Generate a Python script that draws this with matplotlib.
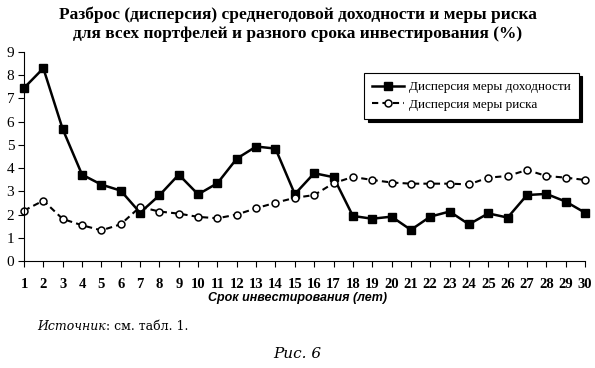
import matplotlib
matplotlib.use("Agg")
import matplotlib.pyplot as plt

# data
years = list(range(1, 31))
disp_return = [7.45, 8.3, 5.68, 3.72, 3.29, 3.03, 2.08, 2.83, 3.72, 2.87,
               3.35, 4.41, 4.93, 4.84, 2.88, 3.78, 3.61, 1.94, 1.82, 1.91,
               1.34, 1.91, 2.13, 1.58, 2.05, 1.87, 2.84, 2.89, 2.56, 2.08]
disp_risk = [2.17, 2.60, 1.81, 1.54, 1.32, 1.58, 2.33, 2.13, 2.04, 1.90,
             1.84, 2.00, 2.27, 2.51, 2.72, 2.84, 3.35, 3.62, 3.49, 3.38,
             3.33, 3.33, 3.33, 3.30, 3.59, 3.66, 3.92, 3.66, 3.59, 3.49]
yticks = list(range(0, 10))

serif = "Liberation Serif"

fig = plt.figure(figsize=(5.95, 3.68), dpi=100)
ax = fig.add_axes([24 / 595, 107 / 368, 561 / 595, 209 / 368])

ax.plot(years, disp_return, color="black", lw=1.8, marker="s", ms=5.5,
        mfc="black", mec="black", label="Дисперсия меры доходности")
ax.plot(years, disp_risk, color="black", lw=1.5, ls=(0, (3, 2)), marker="o",
        ms=5, mfc="white", mec="black", mew=1.1, label="Дисперсия меры риска")

ax.set_xlim(1, 30)
ax.set_ylim(0, 9)
ax.set_xticks(years)
ax.set_yticks(yticks)
ax.spines["top"].set_visible(False)
ax.spines["right"].set_visible(False)
ax.tick_params(axis="both", direction="out", length=4, width=0.8)
ax.tick_params(axis="x", pad=8)
ax.tick_params(axis="y", pad=3)
for lab in ax.get_xticklabels():
    lab.set_fontfamily(serif)
    lab.set_fontsize(10.5)
    lab.set_fontweight("bold")
for lab in ax.get_yticklabels():
    lab.set_fontfamily(serif)
    lab.set_fontsize(11)
for ln in ax.get_lines():
    ln.set_clip_on(False)

leg = ax.legend(loc="upper right", bbox_to_anchor=((579 - 24) / 561, (261 - 73) / 209),
                borderaxespad=0, fancybox=False, framealpha=1, edgecolor="black",
                prop={"family": serif, "size": 9.5}, handlelength=2.4,
                handletextpad=0.4, borderpad=0.6, labelspacing=0.4,
                shadow={"ox": 2.5, "oy": -2.5, "color": "black", "alpha": 1})
leg.get_frame().set_linewidth(0.8)

fig.text(0.5, 1 - 15 / 368, "Разброс (дисперсия) среднегодовой доходности и меры риска",
         ha="center", va="center", family=serif, fontsize=12.5, fontweight="bold")
fig.text(0.5, 1 - 34 / 368, "для всех портфелей и разного срока инвестирования (%)",
         ha="center", va="center", family=serif, fontsize=12.5, fontweight="bold")

fig.text(0.5, 1 - 298 / 368, "Срок инвестирования (лет)", ha="center", va="center",
         family="Liberation Sans", fontsize=9, fontstyle="italic", fontweight="bold")

# "Источник" in italics, the rest upright right after it
src = fig.text(37 / 595, 1 - 327 / 368, "Источник", ha="left", va="center",
               family="DejaVu Serif", fontsize=9, fontstyle="italic")
ax.annotate(": см. табл. 1.", xy=(1, 0.5), xycoords=src, ha="left", va="center",
            family="DejaVu Serif", fontsize=9, annotation_clip=False)
fig.text(0.5, 1 - 354 / 368, "Рис. 6", ha="center", va="center",
         family="DejaVu Serif", fontsize=11, fontstyle="italic")

fig.savefig("out.png", dpi=100)
